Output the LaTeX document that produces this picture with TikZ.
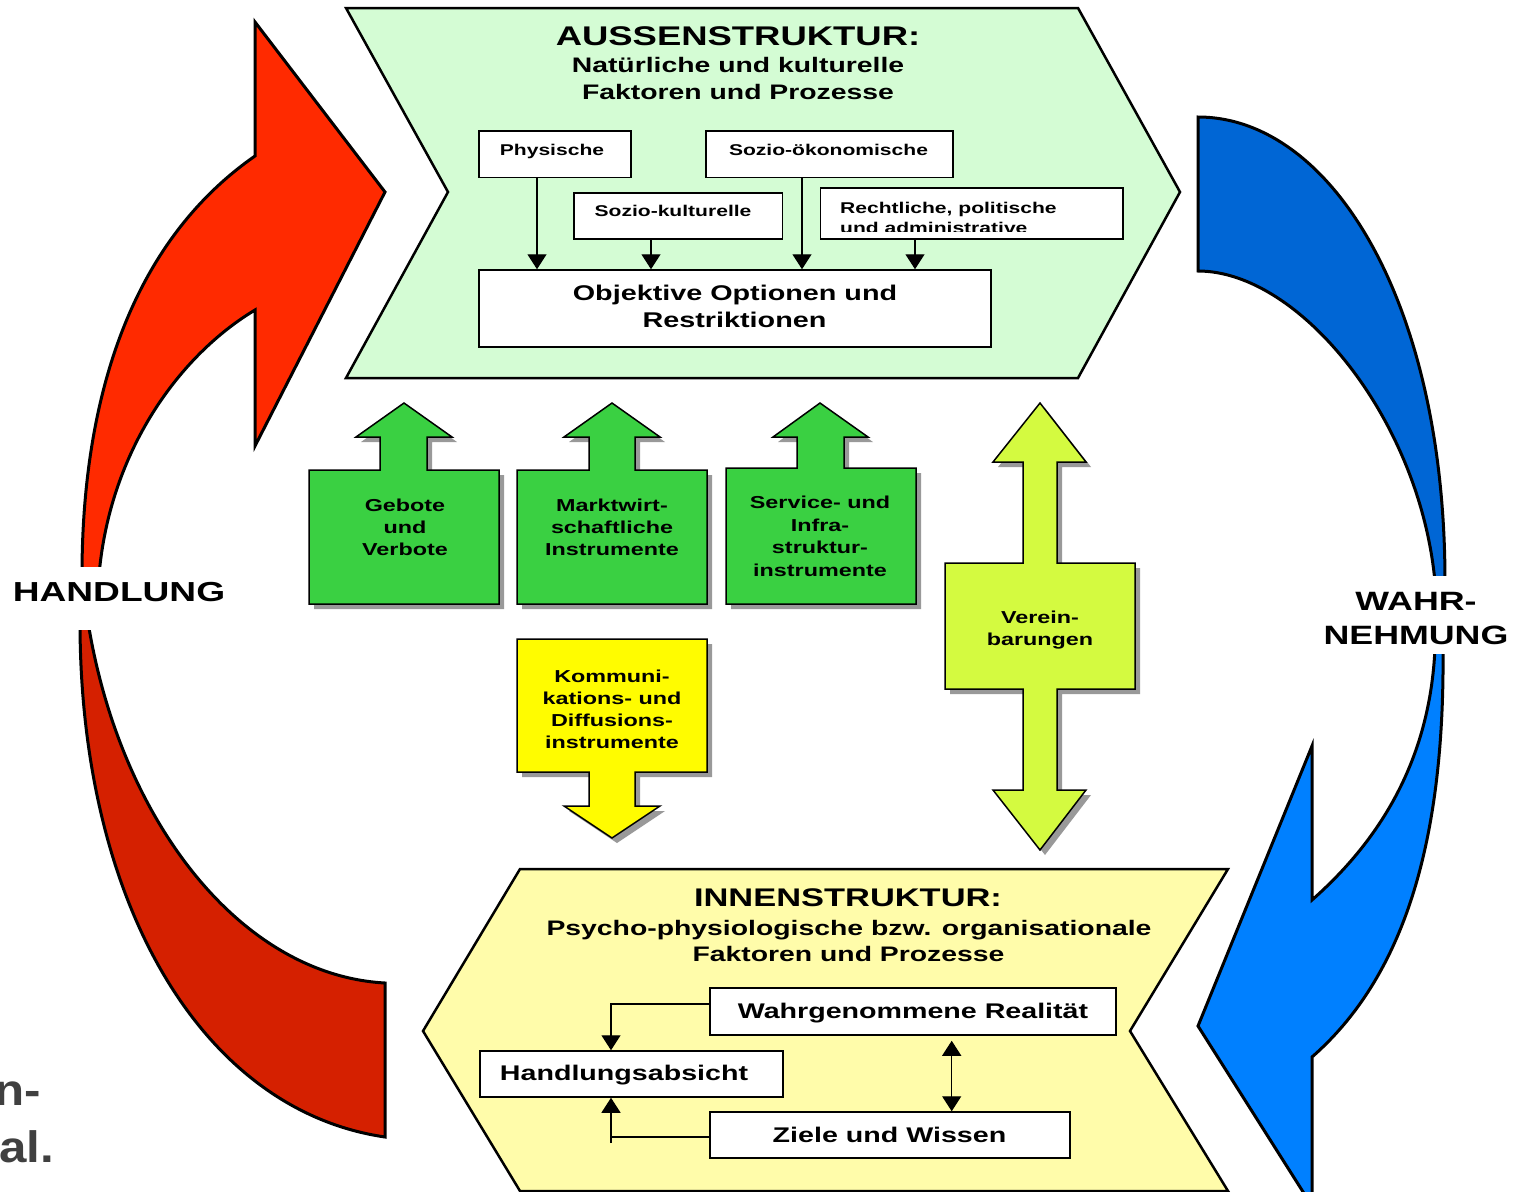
\documentclass[tikz,border=0pt]{standalone}
\usepackage{fontspec}
\setmainfont{Liberation Sans}[FakeStretch=1.35]
\newfontfamily\grayfont{Liberation Sans}[FakeStretch=1.12]
\usetikzlibrary{arrows.meta}
\definecolor{chevgreen}{RGB}{212,252,212}
\definecolor{chevyellow}{RGB}{255,252,170}
\definecolor{redup}{RGB}{255,42,0}
\definecolor{reddown}{RGB}{213,32,0}
\definecolor{blueup}{RGB}{0,102,213}
\definecolor{bluedown}{RGB}{0,128,255}
\definecolor{boxgreen}{RGB}{58,208,66}
\definecolor{boxyellow}{RGB}{255,252,0}
\definecolor{boxlime}{RGB}{212,250,64}
\definecolor{graytext}{RGB}{64,64,64}
\begin{document}
\begin{tikzpicture}[x=1pt,y=-1pt,
  lbl/.style={inner sep=0pt, anchor=base},
  fs/.style={font=\fontsize{#1}{#1}\selectfont\bfseries},
  chev/.style={draw=black, line width=2.5pt, line join=miter},
  bigarrow/.style={draw=black, line width=3pt, line join=miter},
  ibox/.style={draw=black, fill=white, line width=1.5pt, inner sep=0pt},
  blockarrow/.style={draw=black, line width=1.5pt, line join=miter},
  shadowfill/.style={fill=black!40},
  arr/.style={-{Triangle[width=19pt,length=15pt]}, line width=1.3pt},
  arrtwo/.style={{Triangle[width=19pt,length=15pt]}-{Triangle[width=19pt,length=15pt]}, line width=1.3pt},
  plain/.style={line width=1.3pt},
  graylbl/.style={inner sep=0pt, anchor=base east, text=graytext, font=\grayfont\fontsize{44}{44}\selectfont\bfseries}
]
\useasboundingbox (0,0) rectangle (1519,1192);

% ---------- chevrons ----------
\path[chev, fill=chevgreen] (346,8) -- (1078,8) -- (1180,192) -- (1078,378) -- (346,378) -- (448,192) -- cycle;
\path[chev, fill=chevyellow] (520,869) -- (1228,869) -- (1130,1031) -- (1228,1191) -- (520,1191) -- (423,1031) -- cycle;

% ---------- red arrow (HANDLUNG) ----------
\path[bigarrow, fill=redup] (255,22) -- (385,192) -- (255,446) -- (255,310)
  .. controls (180,355) and (110,450) .. (99,575) -- (82,575)
  .. controls (82,420) and (120,250) .. (255,156) -- cycle;
\path[bigarrow, fill=reddown] (80,622) .. controls (80,900) and (200,1110) .. (385,1137)
  -- (385,983) .. controls (240,975) and (120,820) .. (88,622) -- cycle;
\fill[white] (0,567) rectangle (250,630);

% ---------- blue arrow (WAHRNEHMUNG) ----------
\path[bigarrow, fill=blueup] (1198,117) .. controls (1330,117) and (1445,300) .. (1445,582)
  -- (1435,582) .. controls (1420,420) and (1300,271) .. (1198,271) -- cycle;
\path[bigarrow, fill=bluedown] (1443,648) .. controls (1445,850) and (1400,980) .. (1312,1057)
  -- (1312,1206) -- (1198,1026) -- (1312,746) -- (1312,900)
  .. controls (1380,840) and (1430,760) .. (1435,648) -- cycle;
\fill[white] (1300,576) rectangle (1519,654);

% ---------- labels of the cycle ----------
\node[lbl, fs=27.5] (handlung) at (119,601) {HANDLUNG};
\node[lbl, fs=26.5] (wahr1) at (1416,610) {WAHR-};
\node[lbl, fs=26.5] (wahr2) at (1416,644) {NEHMUNG};

% ---------- Aussenstruktur ----------
\node[lbl, fs=27] (atitle) at (738,45.5) {AUSSENSTRUKTUR:};
\node[lbl, fs=21] (asub1) at (738,72) {Natürliche und kulturelle};
\node[lbl, fs=21] (asub2) at (738,99) {Faktoren und Prozesse};

\node[ibox, minimum width=152pt, minimum height=46.5pt] (phys) at (555,154.25) {};
\node[ibox, minimum width=247pt, minimum height=46.5pt] (soek) at (829.5,154.25) {};
\node[ibox, minimum width=208.5pt, minimum height=46pt] (sokul) at (678.25,216) {};
\node[ibox, minimum width=302.5pt, minimum height=51pt] (recht) at (971.75,213.5) {};
\node[ibox, minimum width=512pt, minimum height=77pt] (obj) at (735,308.5) {};

\node[lbl, fs=15.6] (physT) at (552,155) {Physische};
\node[lbl, fs=15.6] (soekT) at (828.5,155) {Sozio-ökonomische};
\node[lbl, fs=15.6] (sokulT) at (673,216.7) {Sozio-kulturelle};
\node[lbl, fs=15.6, anchor=base west] (rechtT1) at (840,213) {Rechtliche, politische};
\begin{scope}
  \clip (821,188) rectangle (1122,231);
  \node[lbl, fs=15.6, anchor=base west] (rechtT2) at (840,233) {und administrative};
\end{scope}
\node[lbl, fs=21.3] (objT1) at (735,300) {Objektive Optionen und};
\node[lbl, fs=21.3] (objT2) at (734.5,327) {Restriktionen};

\draw[arr] ([xshift=-18pt]phys.south) -- ([xshift=-18pt]phys.south |- obj.north);
\draw[arr] ([xshift=-27.25pt]sokul.south) -- ([xshift=-27.25pt]sokul.south |- obj.north);
\draw[arr] ([xshift=-27.5pt]soek.south) -- ([xshift=-27.5pt]soek.south |- obj.north);
\draw[arr] ([xshift=-56.75pt]recht.south) -- ([xshift=-56.75pt]recht.south |- obj.north);

% ---------- Innenstruktur ----------
\node[lbl, fs=25.5] (ititle) at (848,906.7) {INNENSTRUKTUR:};
\node[lbl, fs=21] (isub1) at (849,935) {Psycho-physiologische bzw. organisationale};
\node[lbl, fs=21] (isub2) at (848.5,961.7) {Faktoren und Prozesse};

\node[ibox, minimum width=406pt, minimum height=47pt] (wahr) at (913,1011.5) {};
\node[ibox, minimum width=303pt, minimum height=46pt] (handl) at (631.5,1074) {};
\node[ibox, minimum width=360pt, minimum height=46pt] (ziele) at (890,1135) {};
\node[lbl, fs=21.2] (wahrT) at (913,1018) {Wahrgenommene Realität};
\node[lbl, fs=21.2] (handlT) at (624,1080) {Handlungsabsicht};
\node[lbl, fs=21.2] (zieleT) at (889.5,1142.7) {Ziele und Wissen};

\draw[arr] ([yshift=7.5pt]wahr.west) -| ([xshift=-20.5pt]handl.north);
\coordinate (ztail) at (611,1143);
\draw[plain] ([yshift=-2pt]ziele.west) -| (ztail);
\draw[arr] (ztail) -- ([xshift=-20.5pt]handl.south);
\draw[arrtwo, shorten >=5pt] ([xshift=61.7pt]ziele.north) -- ([xshift=61.7pt]ziele.north |- wahr.south);

% ---------- instrument block arrows ----------
\begin{scope}[shift={(5,5)}]
  \fill[shadowfill] (309,604) -- (309,470) -- (380,470) -- (380,437) -- (356,437) -- (404,403) -- (452,437) -- (427,437) -- (427,470) -- (499,470) -- (499,604) -- cycle;
  \fill[shadowfill] (517,604) -- (517,470) -- (589,470) -- (589,437) -- (564,437) -- (612,403) -- (660,437) -- (635,437) -- (635,470) -- (707,470) -- (707,604) -- cycle;
  \fill[shadowfill] (726,604) -- (726,468) -- (797,468) -- (797,437) -- (773,437) -- (820,403) -- (868,437) -- (844,437) -- (844,468) -- (916,468) -- (916,604) -- cycle;
  \fill[shadowfill] (517,639) -- (707,639) -- (707,772) -- (635,772) -- (635,806) -- (660,806) -- (612,838) -- (564,806) -- (589,806) -- (589,772) -- (517,772) -- cycle;
  \fill[shadowfill] (945,563) -- (1023,563) -- (1023,462) -- (993,462) -- (1040,403) -- (1086,462) -- (1057,462) -- (1057,563) -- (1135,563) -- (1135,689) -- (1057,689) -- (1057,790) -- (1086,790) -- (1040,850) -- (993,790) -- (1023,790) -- (1023,689) -- (945,689) -- cycle;
\end{scope}
\path[blockarrow, fill=boxgreen] (309,604) -- (309,470) -- (380,470) -- (380,437) -- (356,437) -- (404,403) -- (452,437) -- (427,437) -- (427,470) -- (499,470) -- (499,604) -- cycle;
\path[blockarrow, fill=boxgreen] (517,604) -- (517,470) -- (589,470) -- (589,437) -- (564,437) -- (612,403) -- (660,437) -- (635,437) -- (635,470) -- (707,470) -- (707,604) -- cycle;
\path[blockarrow, fill=boxgreen] (726,604) -- (726,468) -- (797,468) -- (797,437) -- (773,437) -- (820,403) -- (868,437) -- (844,437) -- (844,468) -- (916,468) -- (916,604) -- cycle;
\path[blockarrow, fill=boxyellow] (517,639) -- (707,639) -- (707,772) -- (635,772) -- (635,806) -- (660,806) -- (612,838) -- (564,806) -- (589,806) -- (589,772) -- (517,772) -- cycle;
\path[blockarrow, fill=boxlime] (945,563) -- (1023,563) -- (1023,462) -- (993,462) -- (1040,403) -- (1086,462) -- (1057,462) -- (1057,563) -- (1135,563) -- (1135,689) -- (1057,689) -- (1057,790) -- (1086,790) -- (1040,850) -- (993,790) -- (1023,790) -- (1023,689) -- (945,689) -- cycle;

\node[lbl, fs=17.3] (g1a) at (405,511) {Gebote};
\node[lbl, fs=17.3] (g1b) at (405,533) {und};
\node[lbl, fs=17.3] (g1c) at (405,555) {Verbote};
\node[lbl, fs=17.3] (g2a) at (612,511) {Marktwirt-};
\node[lbl, fs=17.3] (g2b) at (612,533) {schaftliche};
\node[lbl, fs=17.3] (g2c) at (612,555) {Instrumente};
\node[lbl, fs=17.3] (g3a) at (820,508.5) {Service- und};
\node[lbl, fs=17.3] (g3b) at (820,531) {Infra-};
\node[lbl, fs=17.3] (g3c) at (820,553.5) {struktur-};
\node[lbl, fs=17.3] (g3d) at (820,576) {instrumente};
\node[lbl, fs=17.3] (k1) at (612,682) {Kommuni-};
\node[lbl, fs=17.3] (k2) at (612,704) {kations- und};
\node[lbl, fs=17.3] (k3) at (612,726.5) {Diffusions-};
\node[lbl, fs=17.3] (k4) at (612,748.5) {instrumente};
\node[lbl, fs=17.3] (v1) at (1040,623.5) {Verein-};
\node[lbl, fs=17.3] (v2) at (1040,645.5) {barungen};

% ---------- cut-off gray text at the left edge ----------
\node[graylbl] (gray1) at (41,1105) {n-};
\node[graylbl] (gray2) at (54,1162) {al.};
\end{tikzpicture}
\end{document}
